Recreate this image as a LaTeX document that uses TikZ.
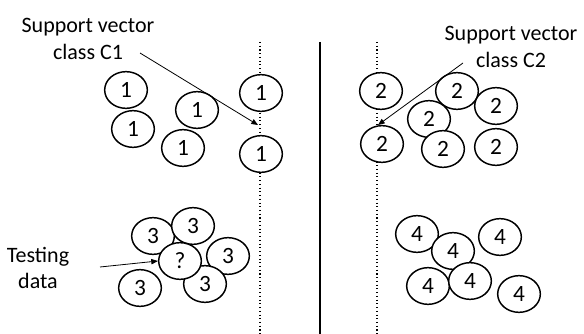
\documentclass[tikz,border=0pt]{standalone}
\usepackage{fontspec}
\setmainfont{Carlito}
\usetikzlibrary{shapes.geometric,arrows.meta}
\begin{document}
\begin{tikzpicture}[x=0.75pt,y=-0.75pt,
  pt/.style={ellipse,draw,line width=1.1pt,fill=white,minimum width=32pt,minimum height=27.5pt,inner sep=0pt,font=\fontsize{17.5}{20}\selectfont},
  lbl/.style={font=\fontsize{16.5}{20}\selectfont,inner sep=0pt,align=center},
  sepdot/.style={dotted,line width=0.8pt},
  sepline/.style={line width=1.1pt},
  ptr/.style={line width=0.6pt,-{Triangle[length=5pt,width=4pt]}}]
\useasboundingbox (0,0) rectangle (584,334);
% separating lines
\coordinate (d1t) at (260,42); \coordinate (d1b) at (260,334);
\coordinate (st) at (320,42); \coordinate (sb) at (320,334);
\coordinate (d2t) at (377,42); \coordinate (d2b) at (377,334);
\draw[sepdot] (d1t) -- (d1b);
\draw[sepline] (st) -- (sb);
\draw[sepdot] (d2t) -- (d2b);
% class 1
\node[pt] (a1) at (126,90) {1};
\node[pt] (a2) at (133,129) {1};
\node[pt] (a3) at (197,110) {1};
\node[pt] (a4) at (183,148) {1};
\node[pt] (a5) at (261,93) {1};
\node[pt] (a6) at (261,154) {1};
% class 2
\node[pt] (b1) at (381,91) {2};
\node[pt] (b2) at (382,144) {2};
\node[pt] (b3) at (457,91) {2};
\node[pt] (b4) at (496,106) {2};
\node[pt] (b5) at (429,119) {2};
\node[pt] (b6) at (443,149) {2};
\node[pt] (b7) at (496,147) {2};
% class 3
\node[pt] (c1) at (153,236) {3};
\node[pt] (c2) at (193,226) {3};
\node[pt] (c3) at (228,256) {3};
\node[pt] (c4) at (205,284) {3};
\node[pt] (c5) at (140,288) {3};
\node[pt] (q) at (180,261) {?};
% class 4
\node[pt] (e1) at (417,234) {4};
\node[pt] (e2) at (453,251) {4};
\node[pt] (e3) at (500,237) {4};
\node[pt] (e4) at (428,286) {4};
\node[pt] (e5) at (470,281) {4};
\node[pt] (e6) at (519,294) {4};
% labels
\node[lbl] (l1) at (88,39) {Support vector\\class C1};
\node[lbl] (l2) at (511,47) {Support vector\\class C2};
\node[lbl] (l3) at (38,268) {Testing\\data};
\coordinate (p1s) at (140,53); \coordinate (p1e) at (258,125);
\coordinate (p2s) at (463,63); \coordinate (p2e) at (378,125);
\coordinate (p3s) at (100,267);
\draw[ptr] (p1s) -- (p1e);
\draw[ptr] (p2s) -- (p2e);
\draw[ptr] (p3s) -- (q.west);
\end{tikzpicture}
\end{document}
